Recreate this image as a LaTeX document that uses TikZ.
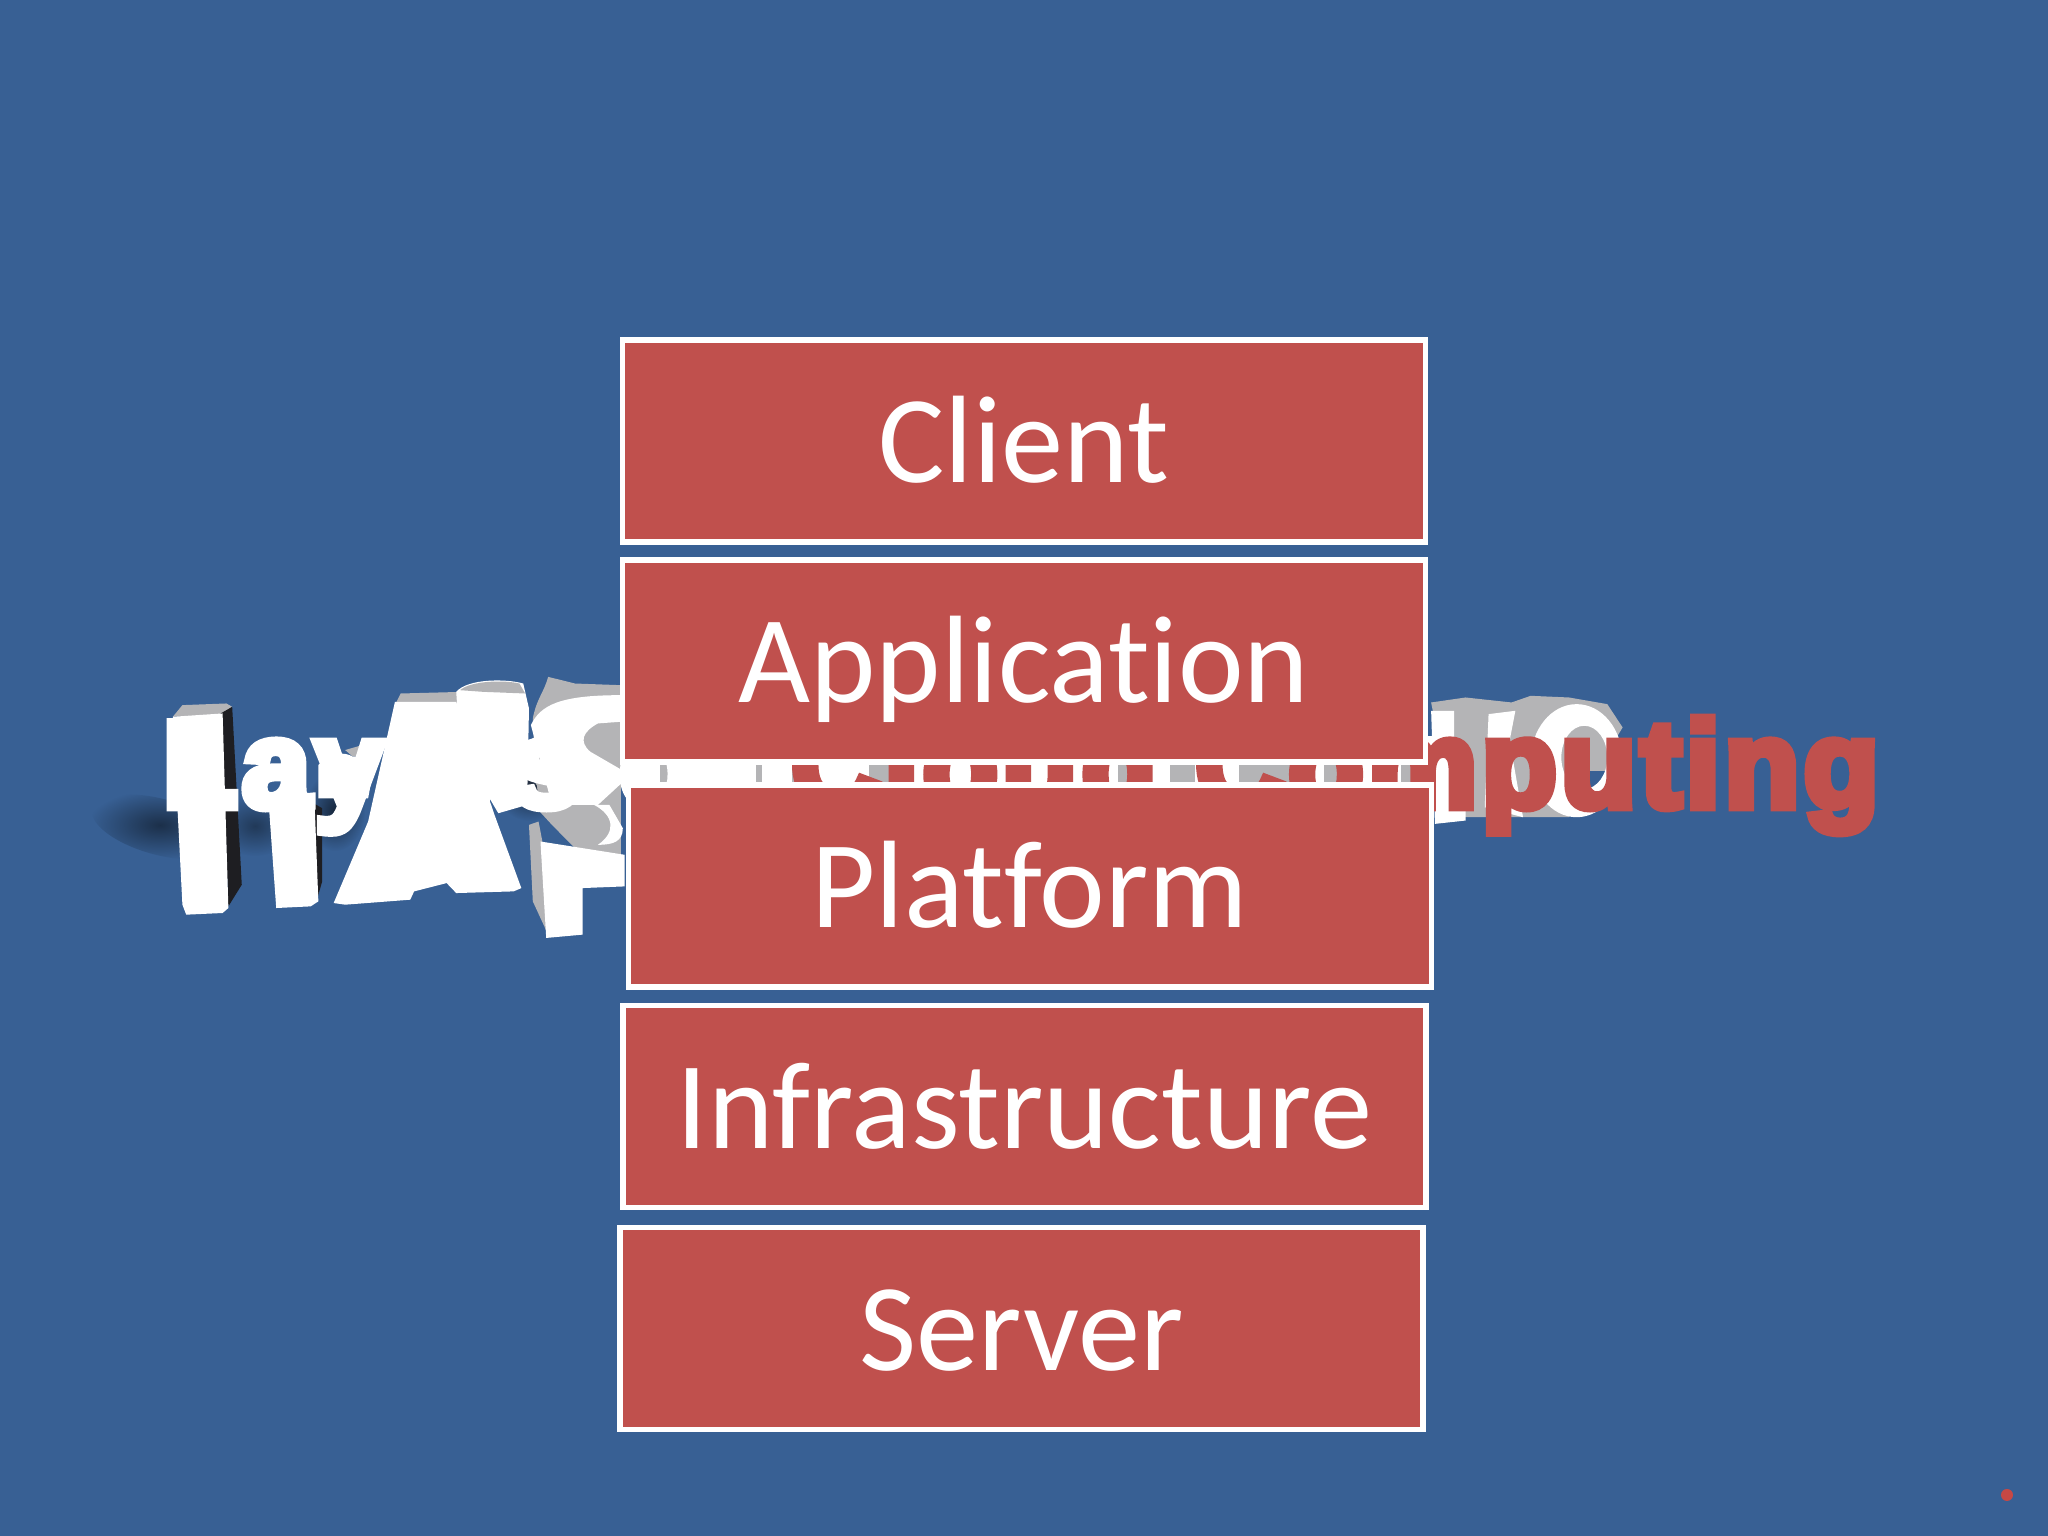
\documentclass[tikz,border=0pt]{standalone}
\usepackage{fontspec}
\setmainfont[Ligatures=NoCommon]{Carlito}
\newfontfamily\heavyfont[FakeBold=7,LetterSpace=3.5]{Liberation Sans Bold}
\usetikzlibrary{fadings}
\tikzfading[name=softshadow,inner color=transparent!0,outer color=transparent!100]
\definecolor{slidebg}{HTML}{386094}
\definecolor{boxred}{HTML}{C0504D}
\definecolor{sidegray}{HTML}{B4B4B6}
\definecolor{sidedark}{HTML}{1E1E22}
\tikzset{
	layerbox/.style={draw=white,line width=1.5pt,fill=boxred,text=white,inner sep=0pt,minimum width=8.03cm,minimum height=2.02cm,text height=1.1cm,text depth=0.26cm,font=\fontsize{35.4}{40}\selectfont},
	topside/.style={fill=sidegray},
	darkside/.style={fill=sidedark},
	letter/.style={fill=white},
	softdark/.style={fill=black,path fading=softshadow}
}
\begin{document}
\begin{tikzpicture}
	\useasboundingbox (0,0) rectangle (20.48,15.36);
	\fill[slidebg] (0,0) rectangle (20.48,15.36);

	% shadows
	\fill[softdark,opacity=0.5,rotate around={-15:(1.6,7.09)}] (1.6,7.09) ellipse (0.7cm and 0.28cm);
	\fill[softdark,opacity=0.4] (2.55,7.1) ellipse (0.4cm and 0.3cm);
	\fill[softdark,opacity=0.6] (3.35,7.25) ellipse (0.3cm and 0.4cm);
	\fill[softdark,opacity=0.6] (5.3,7.5) ellipse (0.35cm and 0.35cm);

	% left letters
	\begin{scope}[x=0.003827cm,y=-0.00333cm,shift={(261.3,-2688)}]
		\fill[topside] (190,225) -- (215,190) -- (330,185) -- (345,195) -- (320,220) -- cycle;
		\fill[darkside] (315,215) -- (345,195) -- (370,730) -- (335,795) -- cycle;
		\fill[letter] (190,225) -- (320,215) -- (335,800) -- (320,815) -- (225,820) -- (215,790) -- cycle;
		\fill[darkside] (550,480) -- (580,500) -- (580,720) -- (565,780) -- cycle;
		\fill[letter] (440,480) -- (560,480) -- (570,780) -- (550,795) -- (460,800) -- cycle;
		\fill[topside] (640,325) -- (700,305) -- (710,345) -- (660,345) -- cycle;
		\fill[letter] (570,370) .. controls (600,330) and (640,330) .. (660,345) -- (720,345) -- (700,470) -- (570,470) -- cycle;
		\fill[topside] (770,190) -- (785,155) -- (950,150) -- (930,190) -- cycle;
		\fill[letter] (610,785) -- (700,540) -- (770,180) -- (930,180) -- (1030,520) -- (1100,740) -- (1080,750) -- (930,755) -- (905,725) -- (820,750) -- (810,775) -- (640,790) -- cycle;
		\fill[darkside] (755,380) -- (770,335) -- (785,350) -- (770,385) -- cycle;
		\fill[topside] (1130,230) .. controls (1140,170) and (1160,150) .. (1170,105) -- (1240,125) -- (1360,130) -- (1360,640) -- (1240,620) -- (1180,550) -- (1140,500) -- cycle;
		\fill[letter] (1125,250) .. controls (1150,190) and (1200,160) .. (1360,160) -- (1360,240) -- (1300,245) .. controls (1260,270) and (1250,300) .. (1280,330) -- (1385,400) -- (1300,490) -- (1180,490) -- cycle;
		\fill[letter] (1290,490) .. controls (1340,520) and (1350,570) .. (1300,610) .. controls (1340,610) and (1365,600) .. (1365,560) -- (1330,490) -- cycle;
		\fill[sidedark!70!slidebg] (1115,410) -- (1140,430) -- (1145,470) -- (1115,440) -- cycle;
		\fill[letter] (930,150) .. controls (960,110) and (1060,110) .. (1105,125) -- (1120,200) -- (1115,490) -- (1040,515) -- (940,320) -- cycle;
		\fill[topside] (940,145) .. controls (970,115) and (1060,115) .. (1095,125) -- (1110,155) -- (1000,150) -- cycle;
		\fill[topside] (1120,550) -- (1145,540) -- (1170,690) -- (1170,880) -- (1130,780) -- cycle;
		\fill[letter] (1150,600) -- (1370,640) -- (1370,735) -- (1260,740) -- (1260,880) -- (1165,890) -- cycle;
	\end{scope}

	% right letters
	\begin{scope}[x=0.003827cm,y=-0.00333cm,shift={(3397,-2631)}]
		\fill[topside] (340,125) -- (430,110) -- (550,125) -- (600,105) -- (700,110) -- (800,130) -- (840,200) -- (700,470) -- (400,470) -- cycle;
		\fill[letter] (340,150) -- (400,150) -- (400,445) -- (430,445) -- (430,480) -- (350,490) -- cycle;
		\fill[letter] (480,440) -- (490,160) -- (560,150) -- (545,240) -- (580,470) -- cycle;
		\fill[topside] (680,190) rectangle (800,330);
		\fill[slidebg] (690,330) rectangle (800,400);
		\fill[letter,even odd rule] (720,300) ellipse (120 and 170) (740,290) ellipse (60 and 95);
	\end{scope}

	% strip seen between application and platform
	\fill[white] (6.3,7.5) rectangle (14.5,8.0);
	\foreach \xa/\xb in {6.6/6.85,7.18/7.29,7.56/7.62,7.92/8.17,8.69/9.07,10.17/10.2,10.5/10.61,10.85/10.94,11.18/11.35,11.7/11.95,12.39/12.97,13.24/13.41,14.01/14.12}
		\fill[sidegray] (\xa,7.5) rectangle (\xb,8.0);

	% title, mostly behind the boxes
	\node[anchor=base west,inner sep=0pt,text=white,font=\fontsize{35}{40}\selectfont\heavyfont] (title) at (1.62,7.29) {Layers of\hspace{3.7pt} \textcolor{boxred}{Cloud Computing}};

	% the layers
	\node[layerbox] (client) at (10.24,10.95) {Client};
	\node[layerbox] (application) at (10.24,8.75) {Application};
	\node[layerbox] (platform) at (10.3,6.5) {Platform};
	\node[layerbox] (infrastructure) at (10.245,4.295) {Infrastructure};
	\node[layerbox] (server) at (10.215,2.075) {Server};

	\fill[boxred!90!red] (20.07,0.41) circle (0.06);
\end{tikzpicture}
\end{document}
